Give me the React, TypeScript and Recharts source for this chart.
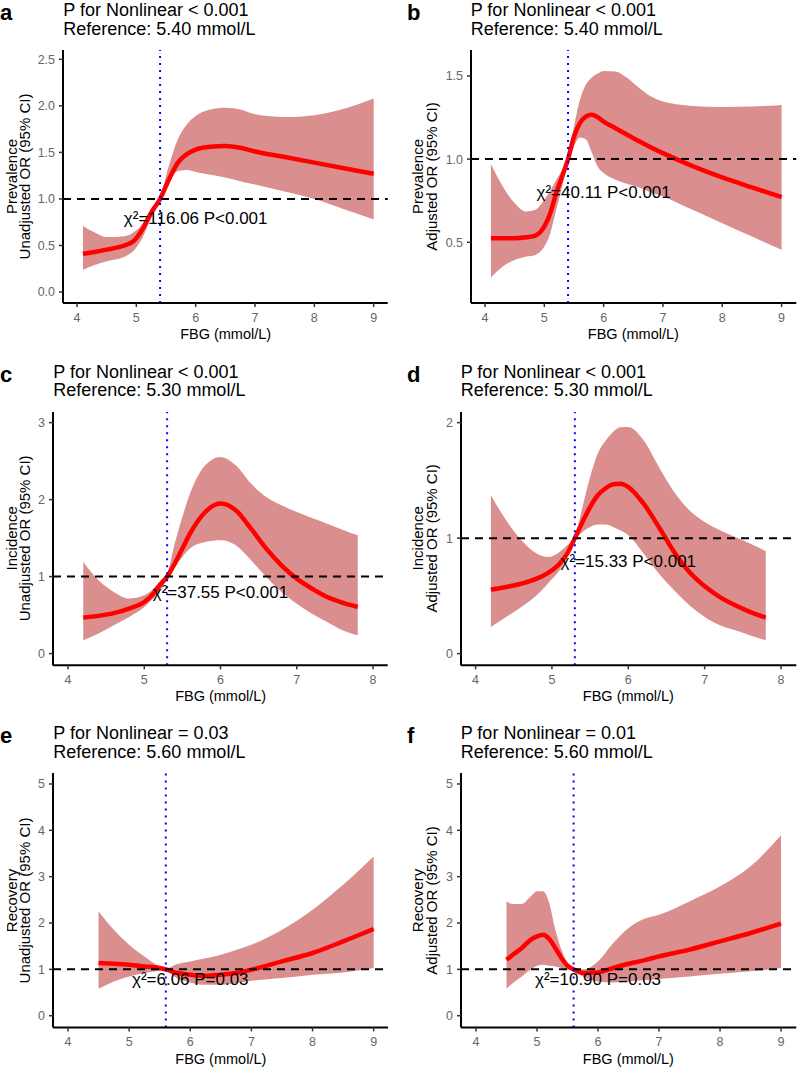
import React from 'react';
import { ComposedChart, Area, Line, XAxis, YAxis, ReferenceLine, ReferenceDot } from 'recharts';

const FONT = '"Liberation Sans", Arial, Helvetica, sans-serif';

// ---------- Panel a: Prevalence, unadjusted ----------
const aX = [4.1, 4.3, 4.5, 4.8, 4.95, 5.1, 5.25, 5.4, 5.55, 5.7, 5.85, 6.0, 6.25, 6.5, 6.75, 7.0, 7.5, 8.0, 8.5, 9.0];
const aEst = [0.41, 0.43, 0.455, 0.5, 0.545, 0.67, 0.85, 1.0, 1.21, 1.39, 1.48, 1.53, 1.56, 1.57, 1.55, 1.51, 1.45, 1.39, 1.33, 1.27];
const aLo = [0.24, 0.29, 0.33, 0.38, 0.44, 0.58, 0.8, 0.98, 1.18, 1.3, 1.31, 1.29, 1.26, 1.23, 1.19, 1.155, 1.08, 1.0, 0.89, 0.78];
const aHi = [0.71, 0.64, 0.59, 0.6, 0.64, 0.73, 0.9, 1.02, 1.36, 1.64, 1.8, 1.89, 1.96, 1.98, 1.96, 1.91, 1.88, 1.9, 1.97, 2.08];

// ---------- Panel b: Prevalence, adjusted ----------
const bX = [4.1, 4.3, 4.5, 4.7, 4.85, 5.0, 5.1, 5.2, 5.3, 5.4, 5.5, 5.6, 5.7, 5.8, 5.9, 6.0, 6.2, 6.4, 6.6, 6.8, 7.0, 7.5, 8.0, 8.5, 9.0];
const bEst = [0.525, 0.525, 0.525, 0.53, 0.54, 0.595, 0.675, 0.795, 0.895, 1.0, 1.136, 1.216, 1.256, 1.266, 1.252, 1.226, 1.186, 1.146, 1.107, 1.07, 1.036, 0.958, 0.89, 0.83, 0.771];
const bLo = [0.288, 0.354, 0.394, 0.414, 0.424, 0.474, 0.555, 0.695, 0.835, 0.976, 1.076, 1.13, 1.12, 1.04, 0.956, 0.916, 0.876, 0.85, 0.83, 0.8, 0.775, 0.695, 0.615, 0.535, 0.455];
const bHi = [0.97, 0.835, 0.735, 0.685, 0.695, 0.755, 0.81, 0.875, 0.935, 1.016, 1.196, 1.357, 1.447, 1.49, 1.515, 1.53, 1.527, 1.487, 1.427, 1.376, 1.346, 1.32, 1.313, 1.316, 1.326];

// ---------- Panel c: Incidence, unadjusted ----------
const cX = [4.2, 4.4, 4.6, 4.8, 5.0, 5.1, 5.2, 5.3, 5.4, 5.5, 5.6, 5.8, 6.0, 6.2, 6.4, 6.6, 6.8, 7.0, 7.2, 7.4, 7.6, 7.8];
const cEst = [0.468, 0.49, 0.525, 0.584, 0.67, 0.757, 0.887, 1.0, 1.169, 1.364, 1.558, 1.839, 1.948, 1.861, 1.623, 1.364, 1.147, 0.974, 0.844, 0.735, 0.662, 0.605];
const cLo = [0.173, 0.26, 0.368, 0.475, 0.605, 0.7, 0.8, 0.974, 1.125, 1.255, 1.364, 1.449, 1.471, 1.406, 1.212, 0.995, 0.8, 0.649, 0.519, 0.41, 0.303, 0.238];
const cHi = [1.19, 0.952, 0.8, 0.714, 0.757, 0.822, 0.93, 1.039, 1.429, 1.774, 2.078, 2.445, 2.553, 2.445, 2.208, 2.034, 1.926, 1.839, 1.76, 1.688, 1.61, 1.536];

// ---------- Panel d: Incidence, adjusted ----------
const dX = [4.2, 4.4, 4.6, 4.8, 4.95, 5.1, 5.2, 5.3, 5.4, 5.5, 5.6, 5.7, 5.8, 5.9, 6.0, 6.2, 6.4, 6.6, 6.8, 7.0, 7.2, 7.4, 7.6, 7.8];
const dEst = [0.554, 0.577, 0.606, 0.649, 0.7, 0.779, 0.866, 1.0, 1.139, 1.269, 1.371, 1.43, 1.466, 1.47, 1.442, 1.299, 1.096, 0.88, 0.706, 0.583, 0.49, 0.418, 0.36, 0.312];
const dLo = [0.23, 0.317, 0.403, 0.505, 0.61, 0.721, 0.836, 0.981, 1.053, 1.096, 1.117, 1.117, 1.096, 1.065, 1.024, 0.866, 0.693, 0.548, 0.418, 0.317, 0.245, 0.202, 0.158, 0.115];
const dHi = [1.371, 1.154, 0.981, 0.866, 0.836, 0.88, 0.938, 1.01, 1.269, 1.529, 1.732, 1.84, 1.919, 1.96, 1.962, 1.847, 1.616, 1.399, 1.241, 1.139, 1.068, 1.01, 0.952, 0.888];

// ---------- Panel e: Recovery, unadjusted ----------
const eX = [4.5, 4.75, 5.0, 5.25, 5.5, 5.6, 5.75, 6.0, 6.25, 6.5, 6.75, 7.0, 7.5, 8.0, 8.5, 9.0];
const eEst = [1.137, 1.122, 1.1, 1.064, 1.03, 1.0, 0.935, 0.885, 0.863, 0.885, 0.92, 0.993, 1.172, 1.353, 1.604, 1.871];
const eLo = [0.583, 0.74, 0.848, 0.921, 0.971, 0.986, 0.835, 0.719, 0.669, 0.669, 0.705, 0.755, 0.813, 0.885, 0.935, 1.03];
const eHi = [2.251, 1.856, 1.532, 1.28, 1.064, 1.008, 1.1, 1.172, 1.24, 1.317, 1.42, 1.532, 1.856, 2.288, 2.828, 3.438];

// ---------- Panel f: Recovery, adjusted ----------
const fX = [4.5, 4.6, 4.75, 4.9, 5.0, 5.1, 5.2, 5.3, 5.4, 5.5, 5.6, 5.75, 6.0, 6.25, 6.5, 6.75, 7.0, 7.5, 8.0, 8.5, 9.0];
const fEst = [1.209, 1.31, 1.461, 1.64, 1.712, 1.748, 1.655, 1.461, 1.245, 1.079, 1.0, 0.921, 0.935, 1.03, 1.122, 1.194, 1.28, 1.425, 1.604, 1.785, 1.986];
const fLo = [0.583, 0.7, 0.848, 1.0, 1.079, 1.1, 1.079, 1.064, 1.03, 0.993, 0.978, 0.848, 0.74, 0.719, 0.74, 0.765, 0.792, 0.848, 0.907, 0.957, 1.03];
const fHi = [2.467, 2.41, 2.41, 2.575, 2.683, 2.683, 2.432, 1.856, 1.425, 1.137, 1.008, 1.0, 1.172, 1.569, 1.893, 2.087, 2.18, 2.467, 2.791, 3.223, 3.892];

// ---------- Ticks and labels ----------
const xTicks49 = [4, 5, 6, 7, 8, 9];
const xTicks48 = [4, 5, 6, 7, 8];
const aYTicks = [0, 0.5, 1, 1.5, 2, 2.5];
const bYTicks = [0.5, 1, 1.5];
const cYTicks = [0, 1, 2, 3];
const dYTicks = [0, 1, 2];
const efYTicks = [0, 1, 2, 3, 4, 5];

const xTitle = 'FBG (mmol/L)';

type PanelSpec = {
  letter: string;
  title1: string;
  title2: string;
  yLab1: string;
  yLab2: string;
  chi: string;
  refX: number;
  xs: number[];
  est: number[];
  lo: number[];
  hi: number[];
  xDomain: [number, number];
  yDomain: [number, number];
  xTicks: number[];
  yTicks: number[];
  yFmt: (v: number) => string;
  L: number;
  T: number;
  R: number;
  B: number;
  right: boolean;
};

const fmt1 = (v: number) => v.toFixed(1);
const fmt0 = (v: number) => String(v);

const panels: PanelSpec[] = [
  {
    letter: 'a', title1: 'P for Nonlinear < 0.001', title2: 'Reference: 5.40 mmol/L',
    yLab1: 'Prevalence', yLab2: 'Unadjusted OR (95% CI)', chi: 'χ²=116.06 P<0.001', refX: 5.4,
    xs: aX, est: aEst, lo: aLo, hi: aHi, xDomain: [3.764, 9.236], yDomain: [-0.118, 2.6],
    xTicks: xTicks49, yTicks: aYTicks, yFmt: fmt1, L: 63.3, T: 50, R: 388, B: 303, right: false,
  },
  {
    letter: 'b', title1: 'P for Nonlinear < 0.001', title2: 'Reference: 5.40 mmol/L',
    yLab1: 'Prevalence', yLab2: 'Adjusted OR (95% CI)', chi: 'χ²=40.11 P<0.001', refX: 5.4,
    xs: bX, est: bEst, lo: bLo, hi: bHi, xDomain: [3.764, 9.248], yDomain: [0.135, 1.656],
    xTicks: xTicks49, yTicks: bYTicks, yFmt: fmt1, L: 470.7, T: 50, R: 796, B: 303, right: true,
  },
  {
    letter: 'c', title1: 'P for Nonlinear < 0.001', title2: 'Reference: 5.30 mmol/L',
    yLab1: 'Incidence', yLab2: 'Unadjusted OR (95% CI)', chi: 'χ²=37.55 P<0.001', refX: 5.3,
    xs: cX, est: cEst, lo: cLo, hi: cHi, xDomain: [3.803, 8.193], yDomain: [-0.152, 3.138],
    xTicks: xTicks48, yTicks: cYTicks, yFmt: fmt0, L: 53.3, T: 411.7, R: 388, B: 665, right: false,
  },
  {
    letter: 'd', title1: 'P for Nonlinear < 0.001', title2: 'Reference: 5.30 mmol/L',
    yLab1: 'Incidence', yLab2: 'Adjusted OR (95% CI)', chi: 'χ²=15.33 P<0.001', refX: 5.3,
    xs: dX, est: dEst, lo: dLo, hi: dHi, xDomain: [3.809, 8.2], yDomain: [-0.101, 2.092],
    xTicks: xTicks48, yTicks: dYTicks, yFmt: fmt0, L: 460.7, T: 411.7, R: 796, B: 665, right: true,
  },
  {
    letter: 'e', title1: 'P for Nonlinear = 0.03', title2: 'Reference: 5.60 mmol/L',
    yLab1: 'Recovery', yLab2: 'Unadjusted OR (95% CI)', chi: 'χ²=6.06 P=0.03', refX: 5.6,
    xs: eX, est: eEst, lo: eLo, hi: eHi, xDomain: [3.755, 9.234], yDomain: [-0.252, 5.237],
    xTicks: xTicks49, yTicks: efYTicks, yFmt: fmt0, L: 53.3, T: 773.3, R: 388.3, B: 1027.7, right: false,
  },
  {
    letter: 'f', title1: 'P for Nonlinear = 0.01', title2: 'Reference: 5.60 mmol/L',
    yLab1: 'Recovery', yLab2: 'Adjusted OR (95% CI)', chi: 'χ²=10.90 P=0.03', refX: 5.6,
    xs: fX, est: fEst, lo: fLo, hi: fHi, xDomain: [3.754, 9.25], yDomain: [-0.252, 5.237],
    xTicks: xTicks49, yTicks: efYTicks, yFmt: fmt0, L: 460.7, T: 773.3, R: 796, B: 1027.7, right: true,
  },
];

const ML = 60;
const MT = 10;
const MR = 10;
const XH = 30;

function Panel({ p }: { p: PanelSpec }) {
  const data = p.xs.map((x, i) => ({ x, est: p.est[i], ci: [p.lo[i], p.hi[i]] }));
  const w = p.R - p.L;
  const h = p.B - p.T;
  return (
    <div style={{ position: 'absolute', left: p.L - ML, top: p.T - MT }}>
      <ComposedChart
        width={w + ML + MR}
        height={h + MT + XH}
        data={data}
        margin={{ top: MT, right: MR, bottom: 0, left: 0 }}
      >
        <XAxis
          type="number"
          dataKey="x"
          domain={p.xDomain}
          ticks={p.xTicks}
          allowDataOverflow
          interval={0}
          height={XH}
          tickSize={4}
          tickMargin={6}
          axisLine={{ stroke: '#000', strokeWidth: 2 }}
          tickLine={{ stroke: '#333', strokeWidth: 1.5 }}
          tick={{ fill: '#666', fontSize: 12.5 }}
        />
        <YAxis
          type="number"
          domain={p.yDomain}
          ticks={p.yTicks}
          allowDataOverflow
          interval={0}
          width={ML}
          tickSize={4}
          tickMargin={4}
          tickFormatter={p.yFmt}
          axisLine={{ stroke: '#000', strokeWidth: 2 }}
          tickLine={{ stroke: '#333', strokeWidth: 1.5 }}
          tick={{ fill: '#666', fontSize: 12.5 }}
        />
        <Area
          dataKey="ci"
          type="monotone"
          fill="#DA8E8E"
          fillOpacity={1}
          stroke="none"
          isAnimationActive={false}
        />
        <Line
          dataKey="est"
          type="monotone"
          stroke="#FF0000"
          strokeWidth={4.5}
          dot={false}
          isAnimationActive={false}
        />
        <ReferenceLine y={1} stroke="#000" strokeWidth={2} strokeDasharray="8 6" />
        <ReferenceLine x={p.refX} stroke="#0000FF" strokeWidth={2} strokeDasharray="2 5" />
        <ReferenceDot
          x={6}
          y={0.8}
          r={0}
          fill="none"
          stroke="none"
          ifOverflow="visible"
          label={{ value: p.chi, position: 'center', fill: '#000', fontSize: 17 }}
        />
      </ComposedChart>
    </div>
  );
}

function Overlay() {
  return (
    <svg
      width={797}
      height={1067}
      style={{ position: 'absolute', left: 0, top: 0, pointerEvents: 'none' }}
    >
      {panels.map((p) => {
        const lx = p.right ? 407 : 0;
        const yb1 = p.right ? 423.3 : 16.7;
        const cy = (p.T + p.B) / 2;
        return (
          <g key={p.letter} fontFamily={FONT}>
            <text x={lx} y={p.T - 30} fontSize={22} fontWeight="bold" fill="#000">
              {p.letter}
            </text>
            <text x={p.L} y={p.T - 34} fontSize={18} fill="#000">
              {p.title1}
            </text>
            <text x={p.L} y={p.T - 15.5} fontSize={18} fill="#000">
              {p.title2}
            </text>
            <text
              transform={`translate(${yb1}, ${cy}) rotate(-90)`}
              textAnchor="middle"
              fontSize={15}
              fill="#000"
            >
              <tspan x={0} y={0}>{p.yLab1}</tspan>
              <tspan x={0} y={13.5}>{p.yLab2}</tspan>
            </text>
            <text x={(p.L + p.R) / 2} y={p.B + 36} textAnchor="middle" fontSize={14.5} fill="#000">
              {xTitle}
            </text>
          </g>
        );
      })}
    </svg>
  );
}

export default function App() {
  return (
    <div
      style={{
        position: 'absolute',
        left: 0,
        top: 0,
        width: 797,
        height: 1067,
        overflow: 'hidden',
        background: '#fff',
        fontFamily: FONT,
      }}
    >
      {panels.map((p) => (
        <Panel key={p.letter} p={p} />
      ))}
      <Overlay />
    </div>
  );
}
